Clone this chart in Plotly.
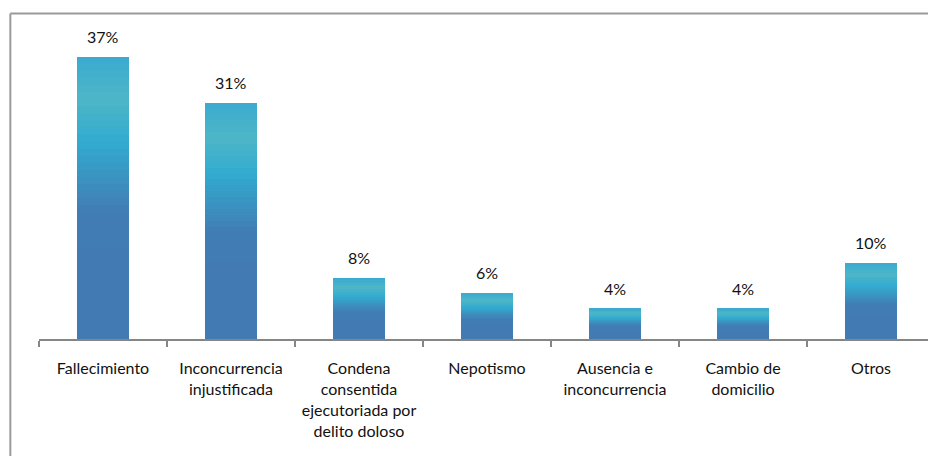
import plotly.graph_objects as go

categories = [
    "Fallecimiento",
    "Inconcurrencia<br>injustificada",
    "Condena<br>consentida<br>ejecutoriada por<br>delito doloso",
    "Nepotismo",
    "Ausencia e<br>inconcurrencia",
    "Cambio de<br>domicilio",
    "Otros",
]
values = [37, 31, 8, 6, 4, 4, 10]
labels = ["37%", "31%", "8%", "6%", "4%", "4%", "10%"]

# gradient stops (relative height, rgb) bottom -> top
stops = [
    (0.00, (66, 122, 179)),
    (0.45, (66, 124, 180)),
    (0.70, (50, 171, 208)),
    (0.85, (78, 182, 199)),
    (1.00, (58, 170, 208)),
]


def color_at(t):
    for (t0, c0), (t1, c1) in zip(stops[:-1], stops[1:]):
        if t <= t1:
            f = (t - t0) / (t1 - t0)
            c = [round(a + (b - a) * f) for a, b in zip(c0, c1)]
            return "rgb({},{},{})".format(*c)
    return "rgb({},{},{})".format(*stops[-1][1])


FONT = "Lato, Open Sans, sans-serif"

n_slices = 40
fig = go.Figure()
for k in range(n_slices):
    fig.add_trace(go.Bar(
        x=categories,
        y=[v / n_slices for v in values],
        marker=dict(color=color_at((k + 0.5) / n_slices), line=dict(width=0)),
        width=0.41,
        showlegend=False,
        hoverinfo="skip",
    ))

for cat, v, lab in zip(categories, values, labels):
    fig.add_annotation(
        x=cat, y=v, text=lab, showarrow=False,
        yanchor="bottom", yshift=9,
        font=dict(family=FONT, size=16, color="#111111"),
    )

# outer frame (only left and top visible in the crop)
fig.add_shape(type="line", xref="paper", yref="paper",
              x0=-0.032, x1=1.02, y0=1.067, y1=1.067,
              line=dict(color="#9a9a9a", width=2))
fig.add_shape(type="line", xref="paper", yref="paper",
              x0=-0.032, x1=-0.032, y0=1.067, y1=-0.5,
              line=dict(color="#9a9a9a", width=2))

# page body has an 8px margin all round, so the figure fits inside it
fig.update_layout(
    width=928,
    height=448,
    margin=dict(l=31, r=1, t=26, b=117),
    barmode="stack",
    bargap=0,
    plot_bgcolor="white",
    paper_bgcolor="white",
    font=dict(family=FONT, size=16, color="#111111"),
)
fig.update_xaxes(
    showline=True, linecolor="#868686", linewidth=2,
    ticks="outside", ticklen=6, tickcolor="#868686", tickwidth=1.5,
    tickson="boundaries", ticklabelstandoff=14,
    showgrid=False,
)
fig.update_yaxes(range=[0, 40], visible=False, showgrid=False)

fig.write_html("out.html")
